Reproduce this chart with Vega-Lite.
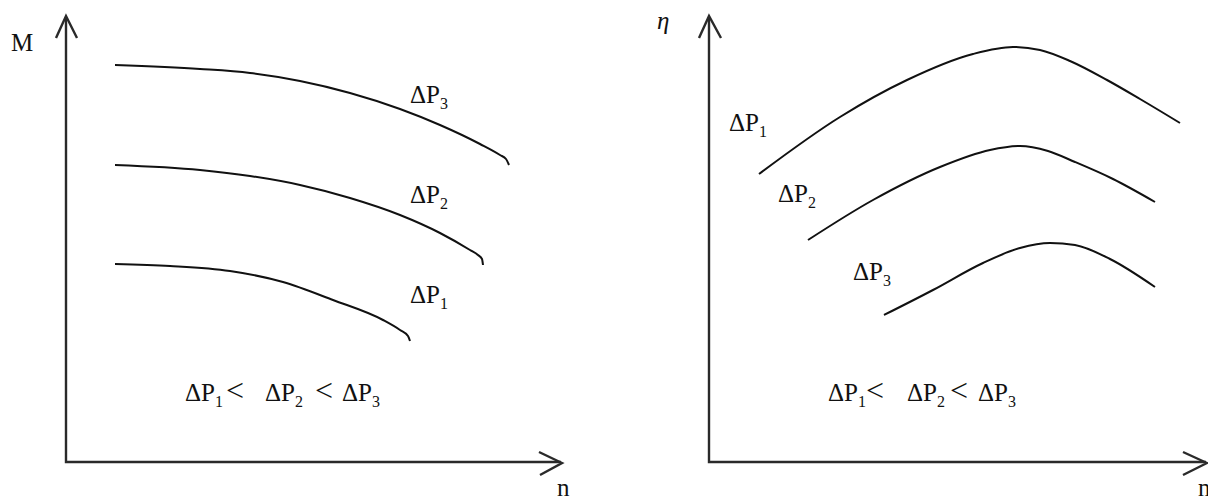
{
  "$schema": "https://vega.github.io/schema/vega-lite/v6.json",
  "width": 1208,
  "height": 500,
  "autosize": {"type": "none"},
  "padding": 0,
  "background": "white",
  "config": {"view": {"stroke": null}},
  "datasets": {
    "frame": [
      {"g": "axisL", "i": 0, "x": 66, "y": 17},
      {"g": "axisL", "i": 1, "x": 66, "y": 462},
      {"g": "axisL", "i": 2, "x": 561, "y": 462},
      {"g": "headLy", "i": 0, "x": 56, "y": 38},
      {"g": "headLy", "i": 1, "x": 66, "y": 16},
      {"g": "headLy", "i": 2, "x": 77, "y": 38},
      {"g": "headLx", "i": 0, "x": 539, "y": 452},
      {"g": "headLx", "i": 1, "x": 562, "y": 463},
      {"g": "headLx", "i": 2, "x": 540, "y": 475},
      {"g": "axisR", "i": 0, "x": 709, "y": 17},
      {"g": "axisR", "i": 1, "x": 709, "y": 462},
      {"g": "axisR", "i": 2, "x": 1206, "y": 462},
      {"g": "headRy", "i": 0, "x": 699, "y": 38},
      {"g": "headRy", "i": 1, "x": 709, "y": 16},
      {"g": "headRy", "i": 2, "x": 721, "y": 38},
      {"g": "headRx", "i": 0, "x": 1183, "y": 452},
      {"g": "headRx", "i": 1, "x": 1207, "y": 463},
      {"g": "headRx", "i": 2, "x": 1183, "y": 475}
    ],
    "curves": [
      {"g": "M_dP3", "i": 0, "x": 115, "y": 65},
      {"g": "M_dP3", "i": 1, "x": 200, "y": 69},
      {"g": "M_dP3", "i": 2, "x": 250, "y": 73},
      {"g": "M_dP3", "i": 3, "x": 300, "y": 81},
      {"g": "M_dP3", "i": 4, "x": 350, "y": 93},
      {"g": "M_dP3", "i": 5, "x": 400, "y": 109},
      {"g": "M_dP3", "i": 6, "x": 440, "y": 125},
      {"g": "M_dP3", "i": 7, "x": 480, "y": 144},
      {"g": "M_dP3", "i": 8, "x": 500, "y": 155},
      {"g": "M_dP3", "i": 9, "x": 506, "y": 159},
      {"g": "M_dP3", "i": 10, "x": 509, "y": 165},
      {"g": "M_dP2", "i": 0, "x": 115, "y": 165},
      {"g": "M_dP2", "i": 1, "x": 200, "y": 170},
      {"g": "M_dP2", "i": 2, "x": 250, "y": 176},
      {"g": "M_dP2", "i": 3, "x": 300, "y": 185},
      {"g": "M_dP2", "i": 4, "x": 350, "y": 198},
      {"g": "M_dP2", "i": 5, "x": 400, "y": 215},
      {"g": "M_dP2", "i": 6, "x": 440, "y": 233},
      {"g": "M_dP2", "i": 7, "x": 470, "y": 250},
      {"g": "M_dP2", "i": 8, "x": 478, "y": 255},
      {"g": "M_dP2", "i": 9, "x": 482, "y": 259},
      {"g": "M_dP2", "i": 10, "x": 483, "y": 265},
      {"g": "M_dP1", "i": 0, "x": 115, "y": 264},
      {"g": "M_dP1", "i": 1, "x": 170, "y": 266},
      {"g": "M_dP1", "i": 2, "x": 230, "y": 271},
      {"g": "M_dP1", "i": 3, "x": 283, "y": 282},
      {"g": "M_dP1", "i": 4, "x": 333, "y": 300},
      {"g": "M_dP1", "i": 5, "x": 383, "y": 320},
      {"g": "M_dP1", "i": 6, "x": 400, "y": 330},
      {"g": "M_dP1", "i": 7, "x": 408, "y": 336},
      {"g": "M_dP1", "i": 8, "x": 410, "y": 341},
      {"g": "eta_dP1", "i": 0, "x": 759, "y": 174},
      {"g": "eta_dP1", "i": 1, "x": 840, "y": 117},
      {"g": "eta_dP1", "i": 2, "x": 907, "y": 80},
      {"g": "eta_dP1", "i": 3, "x": 973, "y": 54},
      {"g": "eta_dP1", "i": 4, "x": 1013, "y": 47},
      {"g": "eta_dP1", "i": 5, "x": 1040, "y": 50},
      {"g": "eta_dP1", "i": 6, "x": 1070, "y": 61},
      {"g": "eta_dP1", "i": 7, "x": 1107, "y": 80},
      {"g": "eta_dP1", "i": 8, "x": 1140, "y": 99},
      {"g": "eta_dP1", "i": 9, "x": 1180, "y": 123},
      {"g": "eta_dP2", "i": 0, "x": 808, "y": 240},
      {"g": "eta_dP2", "i": 1, "x": 873, "y": 200},
      {"g": "eta_dP2", "i": 2, "x": 940, "y": 167},
      {"g": "eta_dP2", "i": 3, "x": 990, "y": 150},
      {"g": "eta_dP2", "i": 4, "x": 1020, "y": 146},
      {"g": "eta_dP2", "i": 5, "x": 1048, "y": 151},
      {"g": "eta_dP2", "i": 6, "x": 1075, "y": 162},
      {"g": "eta_dP2", "i": 7, "x": 1113, "y": 179},
      {"g": "eta_dP2", "i": 8, "x": 1155, "y": 202},
      {"g": "eta_dP3", "i": 0, "x": 884, "y": 315},
      {"g": "eta_dP3", "i": 1, "x": 933, "y": 290},
      {"g": "eta_dP3", "i": 2, "x": 983, "y": 263},
      {"g": "eta_dP3", "i": 3, "x": 1020, "y": 248},
      {"g": "eta_dP3", "i": 4, "x": 1050, "y": 243},
      {"g": "eta_dP3", "i": 5, "x": 1075, "y": 245},
      {"g": "eta_dP3", "i": 6, "x": 1110, "y": 259},
      {"g": "eta_dP3", "i": 7, "x": 1155, "y": 287}
    ],
    "labels": [
      {"kind": "main", "t": "ΔP", "x": 410, "y": 103},
      {"kind": "sub", "t": "3", "x": 440, "y": 109},
      {"kind": "main", "t": "ΔP", "x": 410, "y": 203},
      {"kind": "sub", "t": "2", "x": 440, "y": 209},
      {"kind": "main", "t": "ΔP", "x": 410, "y": 303},
      {"kind": "sub", "t": "1", "x": 440, "y": 309},
      {"kind": "main", "t": "ΔP", "x": 185, "y": 401},
      {"kind": "sub", "t": "1", "x": 215, "y": 407},
      {"kind": "op", "t": "<", "x": 226, "y": 401},
      {"kind": "main", "t": "ΔP", "x": 265, "y": 401},
      {"kind": "sub", "t": "2", "x": 295, "y": 407},
      {"kind": "op", "t": "<", "x": 315, "y": 401},
      {"kind": "main", "t": "ΔP", "x": 342, "y": 401},
      {"kind": "sub", "t": "3", "x": 372, "y": 407},
      {"kind": "main", "t": "ΔP", "x": 729, "y": 131},
      {"kind": "sub", "t": "1", "x": 759, "y": 137},
      {"kind": "main", "t": "ΔP", "x": 778, "y": 202},
      {"kind": "sub", "t": "2", "x": 808, "y": 208},
      {"kind": "main", "t": "ΔP", "x": 853, "y": 280},
      {"kind": "sub", "t": "3", "x": 883, "y": 286},
      {"kind": "main", "t": "ΔP", "x": 828, "y": 401},
      {"kind": "sub", "t": "1", "x": 858, "y": 407},
      {"kind": "op", "t": "<", "x": 866, "y": 401},
      {"kind": "main", "t": "ΔP", "x": 907, "y": 401},
      {"kind": "sub", "t": "2", "x": 937, "y": 407},
      {"kind": "op", "t": "<", "x": 950, "y": 401},
      {"kind": "main", "t": "ΔP", "x": 978, "y": 401},
      {"kind": "sub", "t": "3", "x": 1008, "y": 407},
      {"kind": "axis", "t": "M", "x": 11, "y": 51},
      {"kind": "axis", "t": "n", "x": 557, "y": 496},
      {"kind": "axis", "t": "n", "x": 1198, "y": 496},
      {"kind": "greek", "t": "η", "x": 657, "y": 29}
    ]
  },
  "encoding": {
    "x": {"field": "x", "type": "quantitative", "scale": {"domain": [0, 1208], "nice": false, "zero": false}, "axis": null},
    "y": {"field": "y", "type": "quantitative", "scale": {"domain": [0, 500], "nice": false, "zero": false, "reverse": true}, "axis": null}
  },
  "layer": [
    {
      "data": {"name": "frame"},
      "mark": {"type": "line", "stroke": "#2a2a2a", "strokeWidth": 2.4, "strokeJoin": "miter", "strokeCap": "butt"},
      "encoding": {"detail": {"field": "g"}, "order": {"field": "i", "type": "quantitative"}}
    },
    {
      "data": {"name": "curves"},
      "mark": {"type": "line", "stroke": "#111111", "strokeWidth": 2, "interpolate": "monotone"},
      "encoding": {"detail": {"field": "g"}, "order": {"field": "i", "type": "quantitative"}}
    },
    {
      "data": {"name": "labels"},
      "transform": [{"filter": "datum.kind === 'main'"}],
      "mark": {"type": "text", "align": "left", "baseline": "alphabetic", "font": "'Liberation Serif', 'Times New Roman', 'DejaVu Serif', serif", "fontSize": 25, "color": "#111111"},
      "encoding": {"text": {"field": "t"}}
    },
    {
      "data": {"name": "labels"},
      "transform": [{"filter": "datum.kind === 'op'"}],
      "mark": {"type": "text", "align": "left", "baseline": "alphabetic", "font": "'Liberation Serif', 'Times New Roman', 'DejaVu Serif', serif", "fontSize": 32, "color": "#111111"},
      "encoding": {"text": {"field": "t"}}
    },
    {
      "data": {"name": "labels"},
      "transform": [{"filter": "datum.kind === 'sub'"}],
      "mark": {"type": "text", "align": "left", "baseline": "alphabetic", "font": "'Liberation Serif', 'Times New Roman', 'DejaVu Serif', serif", "fontSize": 16, "color": "#111111"},
      "encoding": {"text": {"field": "t"}}
    },
    {
      "data": {"name": "labels"},
      "transform": [{"filter": "datum.kind === 'axis'"}],
      "mark": {"type": "text", "align": "left", "baseline": "alphabetic", "font": "'Liberation Serif', 'Times New Roman', 'DejaVu Serif', serif", "fontSize": 25, "color": "#111111", "clip": true},
      "encoding": {"text": {"field": "t"}}
    },
    {
      "data": {"name": "labels"},
      "transform": [{"filter": "datum.kind === 'greek'"}],
      "mark": {"type": "text", "align": "left", "baseline": "alphabetic", "font": "'Liberation Serif', 'Times New Roman', 'DejaVu Serif', serif", "fontStyle": "italic", "fontSize": 25, "color": "#111111"},
      "encoding": {"text": {"field": "t"}}
    }
  ]
}
